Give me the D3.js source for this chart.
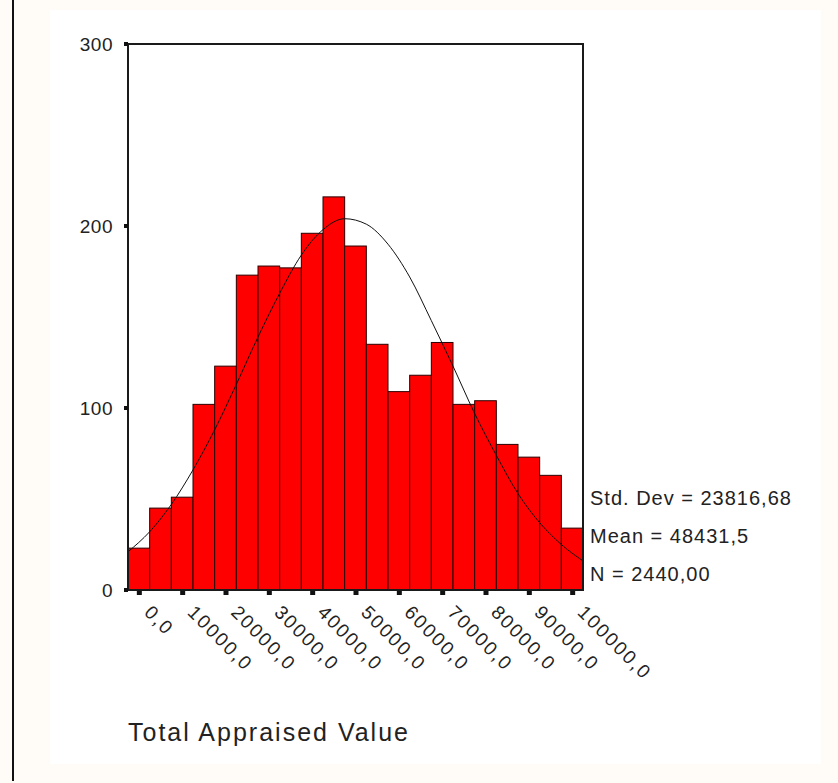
<!DOCTYPE html>
<html>
<head>
<meta charset="utf-8">
<script src="https://cdn.jsdelivr.net/npm/d3@7"></script>
<style>
  html, body { margin: 0; padding: 0; background: #fffcf7; }
  svg { display: block; }
  text { font-family: "Liberation Sans", Arial, sans-serif; fill: #222; }
</style>
</head>
<body>
<script>
// histogram bins (centres) and counts
const binCenters = [0, 5000, 10000, 15000, 20000, 25000, 30000, 35000, 40000, 45000, 50000,
                    55000, 60000, 65000, 70000, 75000, 80000, 85000, 90000, 95000, 100000];
const counts = [23, 45, 51, 102, 123, 173, 178, 177, 196, 216, 189,
                135, 109, 118, 136, 102, 104, 80, 73, 63, 34];
const binWidth = 5000;

// x ticks and their labels
const xTicks = [0, 10000, 20000, 30000, 40000, 50000, 60000, 70000, 80000, 90000, 100000];
const xTickLabels = ["0,0", "10000,0", "20000,0", "30000,0", "40000,0", "50000,0",
                     "60000,0", "70000,0", "80000,0", "90000,0", "100000,0"];
const yTicks = [0, 100, 200, 300];

// normal curve, read at the bin edges
const curveX = [-2500, 2500, 7500, 12500, 17500, 22500, 27500, 32500, 37500, 42500, 47500,
                52500, 57500, 62500, 67500, 72500, 77500, 82500, 87500, 92500, 97500, 102500];
const curveY = [21, 32, 47, 66, 88, 113, 139, 163, 184, 198, 204,
                201, 190, 172, 148, 123, 97, 74, 53, 37, 25, 16];

const statLabels = ["Std. Dev = 23816,68", "Mean = 48431,5", "N = 2440,00"];
const axisTitle = "Total Appraised Value";

const width = 838, height = 783;
const plot = { left: 128, right: 583, top: 44, bottom: 590 };

const svg = d3.select("body").append("svg")
    .attr("width", width)
    .attr("height", height);

// page background: cream border, white panel, black rule at left
svg.append("rect")
    .attr("x", 0).attr("y", 0)
    .attr("width", width).attr("height", height)
    .attr("fill", "#fffcf7");
svg.append("rect")
    .attr("x", 50).attr("y", 10)
    .attr("width", 771).attr("height", 754)
    .attr("fill", "#ffffff");
svg.append("line")
    .attr("x1", 13).attr("x2", 13)
    .attr("y1", 0).attr("y2", 781)
    .attr("stroke", "#111")
    .attr("stroke-width", 2);

const x = d3.scaleLinear()
    .domain([-2500, 102500])
    .range([plot.left, plot.right]);

const y = d3.scaleLinear()
    .domain([0, 300])
    .range([plot.bottom, plot.top]);

// bars
svg.append("g")
    .selectAll("rect")
    .data(binCenters)
    .enter()
    .append("rect")
    .attr("x", d => x(d - binWidth / 2))
    .attr("y", (d, i) => y(counts[i]))
    .attr("width", d => x(d + binWidth / 2) - x(d - binWidth / 2))
    .attr("height", (d, i) => y(0) - y(counts[i]))
    .attr("fill", "#ff0000")
    .attr("stroke", "#2a0000")
    .attr("stroke-width", 1);

// normal curve
const line = d3.line()
    .x((d, i) => x(d))
    .y((d, i) => y(curveY[i]))
    .curve(d3.curveMonotoneX);

svg.append("path")
    .datum(curveX)
    .attr("d", line)
    .attr("fill", "none")
    .attr("stroke", "#111")
    .attr("stroke-width", 1);

// frame
svg.append("path")
    .attr("d", "M" + plot.left + "," + plot.bottom + "V" + plot.top + "H" + plot.right + "V" + plot.bottom + "Z")
    .attr("fill", "none")
    .attr("stroke", "#1a1a1a")
    .attr("stroke-width", 2);

// y axis labels
const yAxis = svg.append("g")
    .attr("transform", "translate(" + plot.left + ",0)")
    .call(d3.axisLeft(y).tickValues(yTicks).tickSize(0).tickPadding(15));
yAxis.select(".domain").remove();
yAxis.selectAll("text")
    .style("font-family", "'Liberation Sans', Arial, sans-serif")
    .style("font-size", "19px")
    .style("letter-spacing", "0.5px")
    .attr("fill", "#222");

// y tick squares
svg.append("g")
    .selectAll("rect")
    .data(yTicks)
    .enter()
    .append("rect")
    .attr("x", plot.left - 4)
    .attr("y", d => y(d) - 2)
    .attr("width", 4)
    .attr("height", 4)
    .attr("fill", "#111");

// x tick squares
svg.append("g")
    .selectAll("rect")
    .data(xTicks)
    .enter()
    .append("rect")
    .attr("x", d => x(d) - 2)
    .attr("y", plot.bottom + 1)
    .attr("width", 5)
    .attr("height", 4)
    .attr("fill", "#111");

// rotated x labels
svg.append("g")
    .selectAll("text")
    .data(xTicks)
    .enter()
    .append("text")
    .attr("transform", d => "translate(" + (x(d) + 14) + "," + (plot.bottom + 14) + ") rotate(45)")
    .attr("dominant-baseline", "hanging")
    .style("font-size", "19px")
    .style("letter-spacing", "2px")
    .text((d, i) => xTickLabels[i]);

// stats
svg.append("g")
    .selectAll("text")
    .data(statLabels)
    .enter()
    .append("text")
    .attr("x", plot.right + 7)
    .attr("y", (d, i) => 505 + i * 38)
    .style("font-size", "20px")
    .style("letter-spacing", "1px")
    .text(d => d);

// axis title
svg.append("text")
    .attr("x", 128)
    .attr("y", 741)
    .style("font-size", "25px")
    .style("letter-spacing", "2px")
    .attr("fill", "#333")
    .text(axisTitle);
</script>
</body>
</html>
